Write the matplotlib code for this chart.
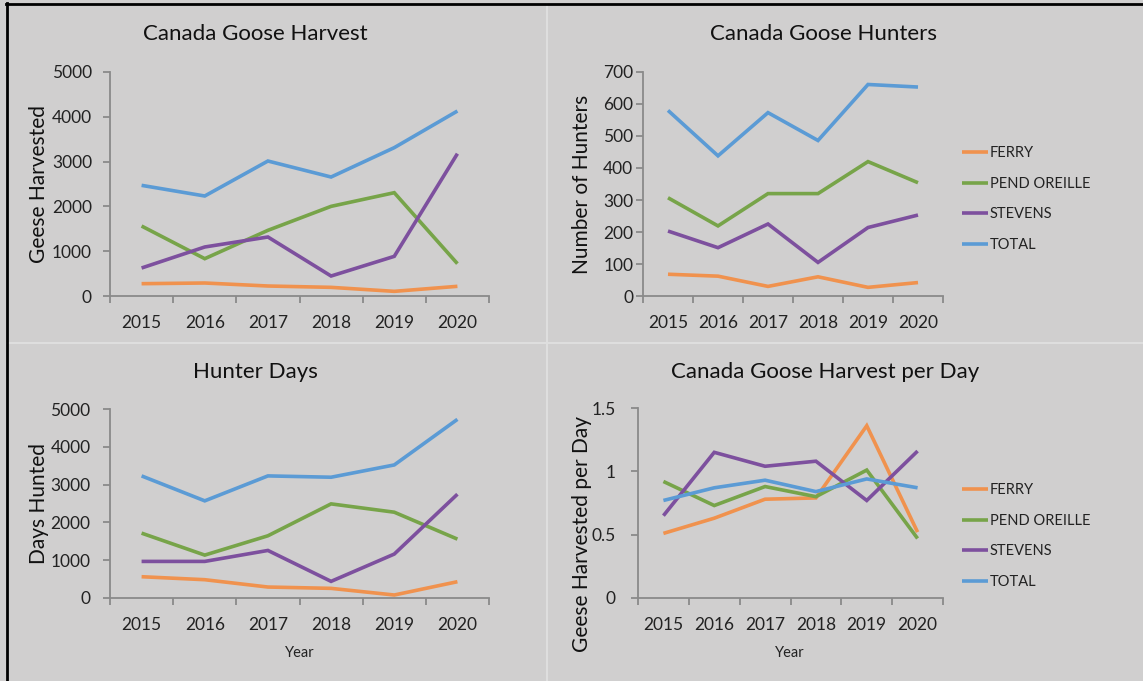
"""
Canada goose harvest summary: four Excel-style line panels
(harvest, hunters, hunter days, harvest per day) by county.
"""

import matplotlib.pyplot as plt
import numpy as np
from matplotlib.lines import Line2D

# ============================================================
# DATA
# ============================================================

years = ["2015", "2016", "2017", "2018", "2019", "2020"]
counties = ["FERRY", "PEND OREILLE", "STEVENS", "TOTAL"]

harvest_ferry = [275, 290, 223, 193, 104, 216]
harvest_pend = [1562, 833, 1466, 2001, 2306, 722]
harvest_stevens = [625, 1094, 1317, 446, 885, 3177]
harvest_total = [2470, 2232, 3013, 2656, 3311, 4129]

hunters_ferry = [68, 62, 30, 60, 27, 42]
hunters_pend = [307, 219, 320, 320, 420, 354]
hunters_stevens = [203, 151, 225, 105, 214, 253]
hunters_total = [580, 438, 573, 486, 661, 653]

days_ferry = [563, 484, 290, 255, 79, 431]
days_pend = [1716, 1135, 1646, 2490, 2270, 1558]
days_stevens = [968, 968, 1258, 440, 1162, 2746]
days_total = [3230, 2570, 3230, 3195, 3520, 4726]

perday_ferry = [0.51, 0.63, 0.78, 0.79, 1.36, 0.52]
perday_pend = [0.92, 0.73, 0.88, 0.80, 1.01, 0.47]
perday_stevens = [0.65, 1.15, 1.04, 1.08, 0.77, 1.16]
perday_total = [0.77, 0.87, 0.93, 0.84, 0.94, 0.87]

# ============================================================
# STYLE
# ============================================================

W, H = 1143, 681
BG = "#d0cfcf"
AXIS_GREY = "#8a8a8a"
COLORS = ["#f0924e", "#77a449", "#7d509e", "#5b9bd5"]
FONT = "Lato"

plt.rcParams["font.family"] = [FONT, "DejaVu Sans"]

fig = plt.figure(figsize=(W / 100, H / 100), dpi=100, facecolor=BG)


def px_axes(left, top, right, bottom):
    """Axes placed by pixel box (y measured from the top)."""
    return fig.add_axes([left / W, 1 - bottom / H,
                         (right - left) / W, (bottom - top) / H])


def fig_text(x, y, s, **kw):
    fig.text(x / W, 1 - y / H, s, ha="center", va="center", **kw)


def draw_panel(ax, series, ymax, ystep, ypad):
    x = np.arange(len(years))
    for vals, color, label in zip(series, COLORS, counties):
        ax.plot(x, vals, color=color, lw=2.6, label=label,
                solid_capstyle="butt", solid_joinstyle="miter")

    ax.set_facecolor("none")
    for side in ("top", "right"):
        ax.spines[side].set_visible(False)
    for side in ("left", "bottom"):
        ax.spines[side].set_color(AXIS_GREY)
        ax.spines[side].set_linewidth(1.3)

    # Excel-style category axis: ticks between categories, labels centred
    ax.set_xlim(-0.5, len(years) - 0.5)
    ax.set_xticks(np.arange(-0.5, len(years), 1))
    ax.set_xticklabels([])
    ax.set_xticks(x, minor=True)
    ax.set_xticklabels(years, minor=True)
    ax.tick_params(axis="x", which="major", length=5, width=1.3,
                   color=AXIS_GREY, direction="out")
    ax.tick_params(axis="x", which="minor", length=0, pad=14,
                   labelsize=12.5, labelcolor="#222222")

    yt = np.arange(0, ymax + ystep / 2, ystep)
    ax.set_ylim(0, ymax)
    ax.set_yticks(yt)
    ax.set_yticklabels([f"{v:g}" for v in yt])
    ax.tick_params(axis="y", length=5, width=1.3, color=AXIS_GREY,
                   direction="out", pad=ypad, labelsize=12.5,
                   labelcolor="#222222")


def add_legend(ax, top_y):
    ax.legend(loc="upper left", bbox_to_anchor=(962 / W, 1 - top_y / H),
              bbox_transform=fig.transFigure, frameon=False, fontsize=10.5,
              handlelength=1.75, handletextpad=0.15, labelspacing=1.14,
              borderpad=0, borderaxespad=0, labelcolor="#222222")


# ============================================================
# PANELS
# ============================================================

ax1 = px_axes(110, 72, 489, 296)
draw_panel(ax1, [harvest_ferry, harvest_pend, harvest_stevens, harvest_total],
           5000, 1000, ypad=8)

ax2 = px_axes(643, 72, 943, 296)
draw_panel(ax2, [hunters_ferry, hunters_pend, hunters_stevens, hunters_total],
           700, 100, ypad=2)
add_legend(ax2, 146)

ax3 = px_axes(110, 409, 489, 598)
draw_panel(ax3, [days_ferry, days_pend, days_stevens, days_total],
           5000, 1000, ypad=9)

ax4 = px_axes(638, 408, 943, 598)
draw_panel(ax4, [perday_ferry, perday_pend, perday_stevens, perday_total],
           1.5, 0.5, ypad=11)
add_legend(ax4, 483)

# titles, axis labels
title_kw = dict(fontsize=16, color="#111111")
fig_text(255, 34, "Canada Goose Harvest", **title_kw)
fig_text(823, 34, "Canada Goose Hunters", **title_kw)
fig_text(255, 372, "Hunter Days", **title_kw)
fig_text(825, 372, "Canada Goose Harvest per Day", **title_kw)

ylab_kw = dict(fontsize=15, rotation=90, color="#111111")
fig_text(39, 184, "Geese Harvested", **ylab_kw)
fig_text(582, 184, "Number of Hunters", **ylab_kw)
fig_text(39, 504, "Days Hunted", **ylab_kw)
fig_text(582, 534, "Geese Harvested per Day", **ylab_kw)

fig_text(300, 653, "Year", fontsize=10.5, color="#222222")
fig_text(790, 653, "Year", fontsize=10.5, color="#222222")

# panel separators and the black frame on the left/top
sep = "#dedede"
fig.add_artist(Line2D([547 / W, 547 / W], [0, 1 - 4 / H], color=sep, lw=1.5))
fig.add_artist(Line2D([7 / W, 1], [1 - 343 / H, 1 - 343 / H], color=sep, lw=1.5))
fig.add_artist(Line2D([6.5 / W, 6.5 / W], [0, 1 - 3 / H], color="black", lw=2))
fig.add_artist(Line2D([5.5 / W, 1], [1 - 3.5 / H, 1 - 3.5 / H], color="black", lw=2))

fig.savefig("out.png", dpi=100, facecolor=BG)
